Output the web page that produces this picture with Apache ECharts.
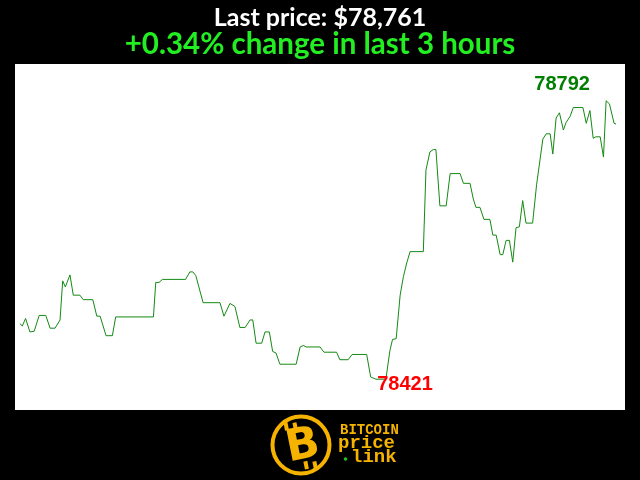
<!DOCTYPE html>
<html>
<head>
<meta charset="utf-8">
<script src="https://cdn.jsdelivr.net/npm/echarts@6/dist/echarts.min.js"></script>
<style>html,body{margin:0;padding:0;background:#000;}#c{width:640px;height:480px;}</style>
</head>
<body>
<div id="c"></div>
<script>
var titleText = 'Last price: $78,761';
var subText = '+0.34% change in last 3 hours';
var minutes = [0,0.7,1.7,3.0,4.3,5.8,7.8,9.1,10.6,12.1,12.9,13.7,15.1,16.1,18.1,19.1,22.0,23.2,24.2,26.0,27.9,28.9,40.3,41.0,42.0,43.0,50.0,51.3,52.2,53.1,55.3,60.4,61.6,62.2,63.4,64.9,66.4,68.0,69.5,70.3,71.3,73.0,74.0,75.3,76.3,77.3,78.5,83.4,84.6,85.6,86.4,90.6,91.8,95.6,96.6,99.1,100.3,104.7,105.9,107.5,110.5,111.7,112.5,113.6,114.8,115.8,116.8,117.8,121.8,122.6,123.8,124.8,125.6,126.8,128.7,129.9,132.9,133.9,135.9,136.9,137.7,138.9,140.1,141.9,142.8,143.8,145.0,145.8,146.8,147.8,148.8,149.8,150.8,151.8,152.8,154.8,156.0,157.9,158.9,160.1,160.9,161.9,162.9,164.1,164.9,166.1,167.1,170.0,171.0,172.1,173.1,173.9,175.2,176.2,177.0,178.0,179.4,180.0];
var prices = [78495,78492,78502,78484,78485,78506,78506,78489,78489,78500,78552,78544,78560,78533,78533,78527,78527,78505,78505,78479,78479,78504,78504,78550,78550,78554,78554,78564,78564,78559,78523,78523,78505,78505,78522,78518,78490,78490,78500,78500,78469,78469,78484,78484,78458,78456,78441,78441,78464,78466,78464,78464,78457,78457,78447,78447,78454,78454,78424,78421,78421,78459,78474,78475,78533,78558,78576,78591,78591,78700,78724,78727,78727,78652,78652,78695,78695,78682,78682,78661,78650,78650,78634,78634,78613,78613,78587,78587,78606,78606,78577,78623,78624,78659,78629,78629,78680,78741,78748,78748,78721,78769,78776,78753,78763,78771,78783,78783,78762,78779,78742,78744,78744,78717,78792,78788,78762,78761];

var data = minutes.map(function (m, i) { return [m, prices[i]]; });
var gold = '#f5b300';

var chart = echarts.init(document.getElementById('c'), null, {renderer: 'canvas'});
chart.setOption({
  backgroundColor: '#000',
  animation: false,
  title: [
    {text: titleText, left: 'center', top: 0,
     textStyle: {color: '#fff', fontFamily: 'Lato', fontWeight: 'bold', fontSize: 25}},
    {text: subText, left: 'center', top: 24,
     textStyle: {color: '#22ee22', fontFamily: 'Lato', fontWeight: 'bold', fontSize: 29.5}}
  ],
  grid: {left: 15, right: 15, top: 64, bottom: 70, show: true, backgroundColor: '#fff', borderWidth: 0},
  xAxis: {type: 'value', min: -1.5, max: 182.7, show: false},
  yAxis: {type: 'value', min: 78380, max: 78841, show: false},
  series: [{
    type: 'line',
    data: data,
    showSymbol: false,
    lineStyle: {color: '#138a13', width: 1},
    markPoint: {
      symbol: 'circle', symbolSize: 0,
      data: [
        {type: 'max', label: {offset: [-44, -16], color: '#007f00'}},
        {type: 'min', label: {offset: [29, 5], color: '#ff0000'}}
      ],
      label: {show: true, position: 'inside', fontFamily: 'Liberation Sans', fontWeight: 'bold', fontSize: 20,
        formatter: function (p) { return String(p.value); }}
    }
  }],
  graphic: [
    {type: 'circle', shape: {cx: 301, cy: 445, r: 28.5}, style: {fill: '#000', stroke: gold, lineWidth: 4}},
    {type: 'text', x: 303, y: 447, rotation: 0.2, style: {text: 'B', fill: gold, font: 'bold 44px "DejaVu Sans"', align: 'center', verticalAlign: 'middle'}},
    {type: 'rect', shape: {x: 288, y: 422, width: 4, height: 8}, rotation: 0.2, originX: 290, originY: 445, style: {fill: gold}},
    {type: 'rect', shape: {x: 297, y: 422, width: 4, height: 8}, rotation: 0.2, originX: 300, originY: 445, style: {fill: gold}},
    {type: 'rect', shape: {x: 300, y: 462, width: 4, height: 8}, rotation: 0.2, originX: 300, originY: 445, style: {fill: gold}},
    {type: 'rect', shape: {x: 309, y: 462, width: 4, height: 8}, rotation: 0.2, originX: 310, originY: 445, style: {fill: gold}},
    {type: 'text', x: 340, y: 430, style: {text: 'BITCOIN', fill: gold, font: 'bold 14px "Liberation Mono"', verticalAlign: 'middle'}},
    {type: 'text', x: 338, y: 443, style: {text: 'price', fill: gold, font: 'bold 19px "Liberation Mono"', verticalAlign: 'middle'}},
    {type: 'circle', shape: {cx: 345.5, cy: 459, r: 1.8}, style: {fill: '#22c022'}},
    {type: 'text', x: 351, y: 457, style: {text: 'link', fill: gold, font: 'bold 19px "Liberation Mono"', verticalAlign: 'middle'}}
  ]
});
</script>
</body>
</html>
